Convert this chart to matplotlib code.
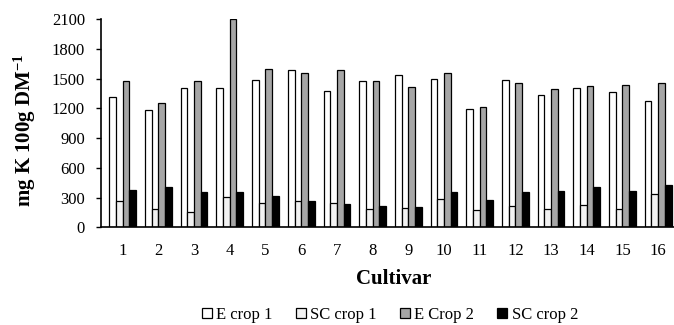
import matplotlib
matplotlib.use("Agg")
import matplotlib.pyplot as plt
import numpy as np

cultivars = [str(i) for i in range(1, 17)]
e_crop1 = [1317, 1182, 1407, 1407, 1482, 1583, 1377, 1472, 1538, 1495, 1196, 1482, 1331, 1404, 1361, 1273]
sc_crop1 = [268, 181, 154, 302, 242, 268, 248, 181, 191, 282, 177, 215, 181, 228, 184, 336]
e_crop2 = [1472, 1256, 1472, 2100, 1599, 1555, 1586, 1472, 1417, 1558, 1210, 1452, 1391, 1421, 1435, 1452]
sc_crop2 = [379, 409, 353, 353, 319, 262, 232, 210, 201, 353, 275, 353, 369, 409, 369, 423]

series = [
    ("E crop 1", e_crop1, "#ffffff"),
    ("SC crop 1", sc_crop1, "#f2f2f2"),
    ("E Crop 2", e_crop2, "#a6a6a6"),
    ("SC crop 2", sc_crop2, "#000000"),
]

plt.rcParams['font.family'] = ['Liberation Serif', 'DejaVu Serif']
plt.rcParams['mathtext.fontset'] = 'stix'

fig = plt.figure(figsize=(6.74, 3.25), dpi=100)
ax = fig.add_axes([101/674, (325-227.3)/325, (676-101)/674, (227.3-19)/325])

x = np.arange(1, 17)
w = 0.187
for i, (name, vals, col) in enumerate(series):
    ax.bar(x + (i - 1.5) * w, vals, width=w, color=col, edgecolor="#000000",
           linewidth=0.9, label=name)

ax.set_xlim(0.392, 16.5)
ax.set_ylim(0, 2100)
ax.set_yticks(range(0, 2101, 300))
ax.set_xticks(x)
ax.set_xticklabels(cultivars)
ax.tick_params(axis='x', length=0, labelsize=12, pad=11)
ax.tick_params(axis='y', length=3.5, width=1, direction='out', labelsize=12, pad=8)
for s in ['top', 'right']:
    ax.spines[s].set_visible(False)
for s in ['left', 'bottom']:
    ax.spines[s].set_linewidth(1.2)

fig.text(25/674, 1 - 130/325, "mg K 100g DM$^{\\mathregular{-1}}$", rotation=90,
         fontsize=15, fontweight='bold', ha='center', va='center')
fig.text(394/674, 1 - 279/325, "Cultivar", fontsize=15, fontweight='bold',
         ha='center', va='center')

leg = fig.legend(loc='center', bbox_to_anchor=(390/674, 1-315/325), ncol=4, frameon=False,
                 fontsize=12, handlelength=0.6, handleheight=0.6, handletextpad=0.25,
                 columnspacing=1.4, borderpad=0, borderaxespad=0)

fig.savefig("out.png", dpi=100)
